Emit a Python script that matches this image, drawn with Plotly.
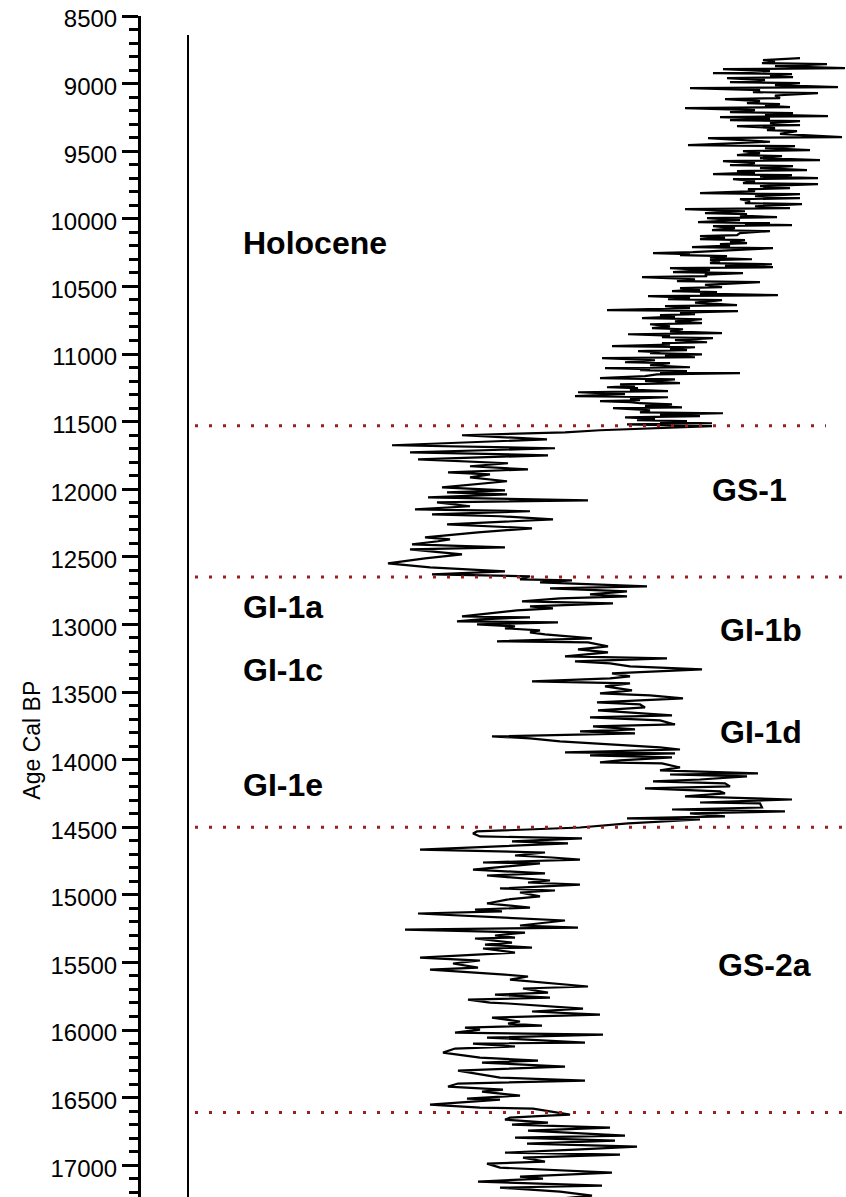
import plotly.graph_objects as go

# ---- proxy record (age in cal BP, proxy value) ----
holocene_age = [8811, 8826, 8837, 8848, 8856, 8870, 8885, 8893, 8907, 8922, 8930, 8941,
                8952, 8959, 8974, 8989, 8996, 9011, 9026, 9033, 9048, 9063, 9070, 9088,
                9107, 9115, 9130, 9144, 9152, 9163, 9174, 9181, 9196, 9211, 9218, 9229,
                9240, 9248, 9259, 9270, 9277, 9292, 9307, 9314, 9329, 9344, 9351, 9372,
                9396, 9403, 9430, 9455, 9462, 9477, 9492, 9499, 9514, 9529, 9536, 9551,
                9566, 9573, 9588, 9603, 9610, 9625, 9640, 9647, 9659, 9670, 9677, 9688,
                9699, 9707, 9722, 9736, 9744, 9759, 9773, 9781, 9796, 9810, 9818, 9833,
                9847, 9855, 9870, 9884, 9892, 9907, 9921, 9929, 9944, 9958, 9966, 9977,
                9988, 9995, 10010, 10025, 10032, 10040, 10047, 10054, 10069, 10084, 10091, 10106,
                10121, 10128, 10140, 10151, 10158, 10169, 10180, 10188, 10199, 10210, 10217, 10232,
                10247, 10254, 10262, 10269, 10276, 10288, 10299, 10306, 10317, 10328, 10336, 10347,
                10358, 10365, 10380, 10395, 10402, 10413, 10424, 10432, 10447, 10461, 10469, 10488,
                10506, 10513, 10524, 10535, 10543, 10554, 10565, 10572, 10584, 10595, 10602, 10620,
                10639, 10646, 10661, 10676, 10683, 10695, 10706, 10713, 10724, 10735, 10743, 10758,
                10772, 10780, 10795, 10809, 10817, 10832, 10846, 10854, 10865, 10876, 10883, 10898,
                10913, 10920, 10931, 10942, 10950, 10961, 10972, 10979, 10987, 10994, 11002, 11013,
                11024, 11031, 11046, 11061, 11068, 11083, 11098, 11105, 11112, 11120, 11127, 11135,
                11142, 11150, 11164, 11179, 11187, 11201, 11216, 11224, 11235, 11246, 11253, 11264,
                11275, 11283, 11297, 11312, 11320, 11331, 11342, 11349, 11356, 11364, 11372, 11383,
                11394, 11401, 11416, 11431, 11438, 11449, 11460, 11468, 11479, 11490, 11497, 11505,
                11512, 11520, 11534]
holocene_val = [3.00, 2.63, 2.75, 2.62, 3.27, 2.75, 3.45, 2.23, 2.70, 2.13, 2.92, 2.70,
                2.93, 2.27, 2.65, 2.30, 3.00, 2.75, 3.38, 1.90, 2.60, 2.53, 3.18, 2.75,
                2.80, 2.25, 2.60, 2.47, 2.80, 2.65, 2.90, 1.85, 2.55, 2.30, 2.93, 2.65,
                3.28, 2.20, 2.70, 2.30, 3.00, 2.70, 3.00, 2.37, 2.75, 2.67, 2.97, 2.80,
                3.42, 2.08, 2.70, 1.88, 2.95, 2.65, 3.10, 2.43, 2.60, 2.37, 2.82, 2.60,
                3.20, 2.23, 2.55, 2.30, 2.93, 2.60, 3.07, 2.37, 2.55, 2.13, 2.92, 2.60,
                3.18, 2.33, 2.55, 2.43, 3.18, 2.60, 2.90, 2.48, 2.55, 2.00, 3.00, 2.55,
                3.00, 2.40, 2.50, 2.45, 3.02, 2.55, 2.90, 1.85, 2.45, 2.05, 2.47, 2.40,
                2.77, 2.07, 2.40, 1.98, 2.70, 2.45, 2.92, 2.13, 2.35, 2.12, 2.70, 2.40,
                2.37, 2.00, 2.25, 2.00, 2.45, 2.30, 2.47, 2.20, 2.30, 1.92, 2.73, 2.35,
                1.93, 1.53, 1.90, 1.80, 2.27, 2.10, 2.52, 2.10, 2.20, 2.10, 2.72, 2.25,
                2.73, 1.70, 2.10, 1.73, 2.43, 2.05, 2.07, 1.42, 1.95, 1.77, 2.60, 2.05,
                2.22, 1.80, 2.00, 1.72, 2.17, 2.00, 2.78, 1.48, 1.90, 1.68, 2.22, 1.95,
                2.37, 1.65, 1.90, 1.07, 2.38, 1.80, 1.95, 1.60, 1.75, 1.42, 2.02, 1.75,
                2.02, 1.50, 1.70, 1.52, 1.83, 1.70, 2.22, 1.28, 1.70, 1.62, 2.13, 1.75,
                2.07, 1.62, 1.70, 1.12, 1.95, 1.70, 1.87, 1.38, 1.60, 1.50, 2.02, 1.65,
                1.95, 1.02, 1.55, 1.25, 1.70, 1.50, 1.90, 1.05, 1.50, 1.40, 1.87, 1.60,
                2.40, 1.57, 1.45, 1.00, 1.75, 1.45, 1.80, 1.20, 1.35, 1.07, 1.38, 1.30,
                1.68, 0.78, 1.25, 0.75, 1.68, 1.30, 1.40, 1.00, 1.30, 1.40, 1.72, 1.45,
                1.82, 1.13, 1.50, 1.40, 2.23, 1.60, 2.00, 1.25, 1.55, 1.37, 1.87, 1.60,
                2.12, 1.27, 2.12]

gs1_age = [11564, 11579, 11601, 11631, 11675, 11697, 11727, 11749, 11779, 11808,
           11830, 11853, 11875, 11890, 11912, 11941, 11986, 12008, 12023, 12038,
           12060, 12082, 12097, 12126, 12149, 12163, 12186, 12200, 12223, 12260,
           12289, 12319, 12356, 12371, 12385, 12408, 12430, 12445, 12482, 12511,
           12548, 12578, 12607, 12630, 12644]
gs1_val = [1.00, 0.65, -0.38, 0.47, -1.08, 0.55, -0.90, 0.48, -0.82, 0.08,
           -0.30, 0.28, -0.52, -0.10, -0.30, 0.07, -0.58, 0.05, -0.53, 0.07,
           -0.72, 0.88, -0.63, -0.30, -0.85, 0.30, -0.68, 0.00, 0.53, -0.53,
           0.32, -0.22, -0.75, -0.50, -0.62, -0.88, 0.05, -0.90, -0.38, -0.75,
           -1.12, -0.70, 0.05, -0.68, 0.30]

gi1_age = [12667, 12674, 12689, 12718, 12733, 12755, 12778, 12792, 12807, 12829,
           12844, 12866, 12881, 12896, 12940, 12948, 12963, 12977, 12985, 13000,
           13014, 13029, 13044, 13059, 13074, 13103, 13125, 13133, 13162, 13185,
           13207, 13236, 13251, 13273, 13288, 13310, 13333, 13362, 13384, 13399,
           13421, 13436, 13458, 13488, 13510, 13525, 13547, 13577, 13592, 13614,
           13636, 13673, 13688, 13710, 13740, 13754, 13777, 13791, 13806, 13828,
           13843, 13865, 13895, 13910, 13925, 13947, 13954, 13969, 13984, 14006,
           14021, 14028, 14058, 14080, 14102, 14110, 14124, 14147, 14161, 14176,
           14198, 14213, 14235, 14250, 14272, 14295, 14317, 14324, 14354, 14369,
           14383, 14398, 14420, 14435, 14443, 14465, 14472, 14502, 14531, 14546]
gi1_val = [0.20, 0.72, 0.40, 1.47, 0.50, 1.27, 0.90, 1.27, 0.60, 0.22,
           1.13, 0.30, 0.53, 0.17, -0.38, 0.30, -0.20, -0.43, 0.58, -0.23,
           0.15, 0.05, 0.40, 0.30, 0.45, 0.92, -0.03, 0.88, 1.08, 0.78,
           1.08, 0.65, 1.67, 0.75, 1.10, 1.30, 2.02, 1.12, 1.30, 1.10,
           0.32, 1.30, 1.05, 1.32, 1.00, 1.50, 1.83, 0.97, 1.40, 1.45,
           0.98, 1.72, 0.90, 1.60, 1.75, 0.93, 1.35, 0.80, 1.35, -0.08,
           0.30, 0.60, 1.27, 1.60, 1.80, 0.65, 1.75, 0.90, 1.72, 1.20,
           1.00, 1.62, 1.80, 1.60, 2.58, 1.70, 2.47, 2.00, 1.53, 2.25,
           2.30, 1.45, 2.20, 2.25, 1.85, 2.92, 2.00, 2.60, 2.62, 1.72,
           2.85, 1.90, 2.25, 1.27, 2.00, 1.50, 1.28, 0.80, -0.23, -0.27]

gs2a_age = [14568, 14583, 14605, 14620, 14665, 14687, 14709, 14724, 14739, 14761,
            14768, 14813, 14842, 14857, 14894, 14909, 14924, 14953, 14968, 14983,
            15012, 15035, 15064, 15094, 15109, 15123, 15138, 15190, 15227, 15242,
            15257, 15279, 15301, 15316, 15323, 15353, 15368, 15390, 15397, 15427,
            15464, 15486, 15508, 15538, 15553, 15590, 15604, 15627, 15656, 15678,
            15693, 15723, 15738, 15760, 15775, 15797, 15804, 15841, 15863, 15886,
            15908, 15937, 15952, 15967, 15982, 15997, 16019, 16034, 16056, 16093,
            16100, 16122, 16137, 16167, 16204, 16226, 16241, 16270, 16300, 16352,
            16374, 16396, 16418, 16441, 16455, 16485, 16507, 16515, 16552, 16574,
            16581, 16611]
gs2a_val = [-0.20, 0.82, 0.12, 0.68, -0.80, 0.45, 0.15, 0.52, 0.80, -0.17,
            0.40, -0.27, 0.45, -0.13, 0.50, 0.28, 0.80, 0.00, 0.55, 0.20,
            0.40, 0.07, -0.13, 0.30, -0.25, 0.02, -0.82, 0.65, 0.20, 0.78,
            -0.95, 0.25, -0.05, 0.15, -0.25, 0.12, -0.15, 0.32, -0.17, 0.15,
            -0.80, -0.20, -0.47, -0.22, -0.70, 0.05, 0.28, 0.10, 0.50, 0.88,
            0.23, 0.48, -0.05, 0.50, -0.32, -0.10, 0.08, 0.83, 0.32, 1.00,
            -0.08, 0.20, 0.08, 0.42, -0.35, -0.20, -0.45, 1.03, -0.13, 0.85,
            -0.27, 0.15, -0.45, -0.57, -0.20, 0.38, -0.18, 0.65, -0.42, 0.00,
            0.85, -0.42, -0.52, 0.03, -0.18, 0.20, -0.33, 0.00, -0.70, -0.20,
            0.33, 0.55]

gs2b_age = [16626, 16633, 16648, 16663, 16685, 16700, 16722, 16744, 16766, 16781,
            16796, 16818, 16840, 16862, 16885, 16907, 16922, 16944, 16973, 16988,
            17018, 17055, 17084, 17099, 17121, 17151, 17166, 17195, 17225, 17247]
gs2b_val = [0.70, 0.48, 0.10, 0.05, 0.48, 0.12, 1.10, 0.28, 0.90, 1.25,
            0.15, 1.15, 0.27, 1.37, 0.75, 0.05, 1.20, 0.23, 0.45, -0.13,
            0.00, 1.12, 0.20, 0.43, -0.22, 1.02, 0.00, 0.60, 0.92, 0.60]

# event boundaries (cal BP)
boundary_ages = [11530, 12650, 14500, 16610]
boundary_xend = [3.26, 3.46, 3.46, 3.46]

labels = ["Holocene", "GS-1", "GI-1a", "GI-1b", "GI-1c", "GI-1d", "GI-1e", "GS-2a"]
label_x = [-2.59, 2.10, -2.59, 2.18, -2.59, 2.18, -2.59, 2.16]
label_age = [10180, 12005, 12871, 13041, 13337, 13796, 14188, 15519]

y_top, y_bottom = 8500, 17235
x_min, x_max = -3.59, 3.46

ages = holocene_age + gs1_age + gi1_age + gs2a_age + gs2b_age
vals = holocene_val + gs1_val + gi1_val + gs2a_val + gs2b_val

FONT = "Liberation Sans, Arial, sans-serif"

fig = go.Figure()
fig.add_trace(go.Scatter(x=vals, y=ages, mode="lines",
                         line=dict(color="black", width=2.2), showlegend=False,
                         hoverinfo="skip"))

# vertical reference line of the panel
fig.add_shape(type="line", xref="x", yref="y", x0=-3.12, x1=-3.12, y0=8640, y1=y_bottom,
              line=dict(color="black", width=2))

for a, xe in zip(boundary_ages, boundary_xend):
    fig.add_shape(type="line", xref="x", yref="y", x0=-3.05, x1=xe, y0=a, y1=a,
                  line=dict(color="#9B1F1A", width=3, dash="3px,11px"))

for t, xx, yy in zip(labels, label_x, label_age):
    fig.add_annotation(x=xx, y=yy, xref="x", yref="y", text="<b>%s</b>" % t,
                       showarrow=False, xanchor="left", yanchor="middle",
                       font=dict(family=FONT, size=32, color="black"))

fig.add_annotation(x=-0.155, y=0.387, xref="paper", yref="paper", text="Age Cal BP",
                   showarrow=False, textangle=-90, xanchor="center", yanchor="middle",
                   font=dict(family=FONT, size=23, color="black"))

fig.update_xaxes(range=[x_min, x_max], visible=False, automargin=False)
fig.update_yaxes(range=[y_bottom, y_top], tick0=8500, dtick=500, tickformat="d",
                 ticks="outside", ticklen=16, tickwidth=3, tickcolor="black",
                 showline=True, linewidth=3, linecolor="black", showgrid=False,
                 zeroline=False, ticklabeloverflow="allow", automargin=False,
                 ticklabelshift=-3,
                 tickfont=dict(family=FONT, size=24, color="black"),
                 minor=dict(dtick=100, ticks="outside", ticklen=9, tickwidth=3,
                            tickcolor="black", showgrid=False))

fig.update_layout(width=846, height=1197, margin=dict(l=141, r=0, t=16, b=0),
                  plot_bgcolor="white", paper_bgcolor="white")

# remove the default page margin so the figure fills the window exactly
fig.write_html("out.html", config={"displayModeBar": False},
               post_script="document.body.style.margin='0px';"
                           "document.body.style.overflow='hidden';")
